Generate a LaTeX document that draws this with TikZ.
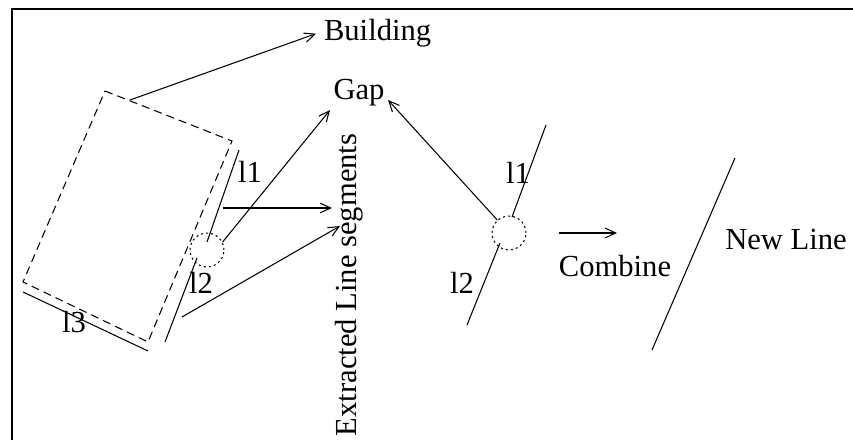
\documentclass[tikz,border=0pt]{standalone}
\usepackage{fontspec}
\setmainfont{Liberation Serif}
\usetikzlibrary{arrows.meta}

\begin{document}
\begin{tikzpicture}[x=0.3333pt,y=-0.3333pt,line width=0.35pt,
  every node/.style={font=\fontsize{10.2}{12}\selectfont},
  arr/.style={-{Straight Barb[length=3.5pt,width=3.2pt]}},
  gapmark/.style={circle,draw,dash pattern=on 0.7pt off 1pt,minimum size=11.3pt,inner sep=0pt},
  lbl/.style={inner sep=0pt}]
  \useasboundingbox (0,0) rectangle (853,440);
  \draw[line width=0.7pt] (12,440) -- (12,9) -- (853,9);

  \draw[dash pattern=on 2.7pt off 1.7pt] (105,91) -- (232,141) -- (148,342) -- (23,282) -- cycle;
  \coordinate (bldg) at (130,100);
  \draw (239,150) -- (207,242);
  \draw (197,258) -- (165,342);
  \draw (23,292) -- (148,351);
  \node[gapmark] (gapA) at (207,250) {};
  \node[lbl] (l1a) at (250,172) {l1};
  \node[lbl] (l2a) at (201,283) {l2};
  \node[lbl] (l3) at (74,322) {l3};

  \node[anchor=base west,inner sep=2.5pt] (building) at (316,41) {Building};
  \node[anchor=base west,inner sep=1pt] (gap) at (330,100) {Gap};
  \node[rotate=90,inner sep=0pt] (extracted) at (349,285) {Extracted Line segments};
  \coordinate (segA) at (223,208);
  \coordinate (segB) at (182,317);
  \coordinate (extA) at (332,208);
  \coordinate (extB) at (340,226);
  \draw[arr] (bldg) -- (building.west);
  \draw[arr] (gapA.27) -- (gap.south west);
  \draw[arr] (segA) -- (extA);
  \draw[arr] (segB) -- (extB);

  \draw (546,125) -- (512,217);
  \draw (500,243) -- (467,325);
  \node[gapmark] (gapB) at (509,233) {};
  \node[lbl] (l1b) at (518,173) {l1};
  \node[lbl] (l2b) at (462,283) {l2};
  \draw[arr] (gapB.132) -- (gap.base east);

  \coordinate (cmbA) at (559,233);
  \coordinate (cmbB) at (617,233);
  \draw[arr] (cmbA) -- (cmbB);
  \node[anchor=base] (combine) at (615,277) {Combine};
  \draw (735,158) -- (652,350);
  \node[anchor=base] (newline) at (786,250) {New Line};
\end{tikzpicture}
\end{document}
